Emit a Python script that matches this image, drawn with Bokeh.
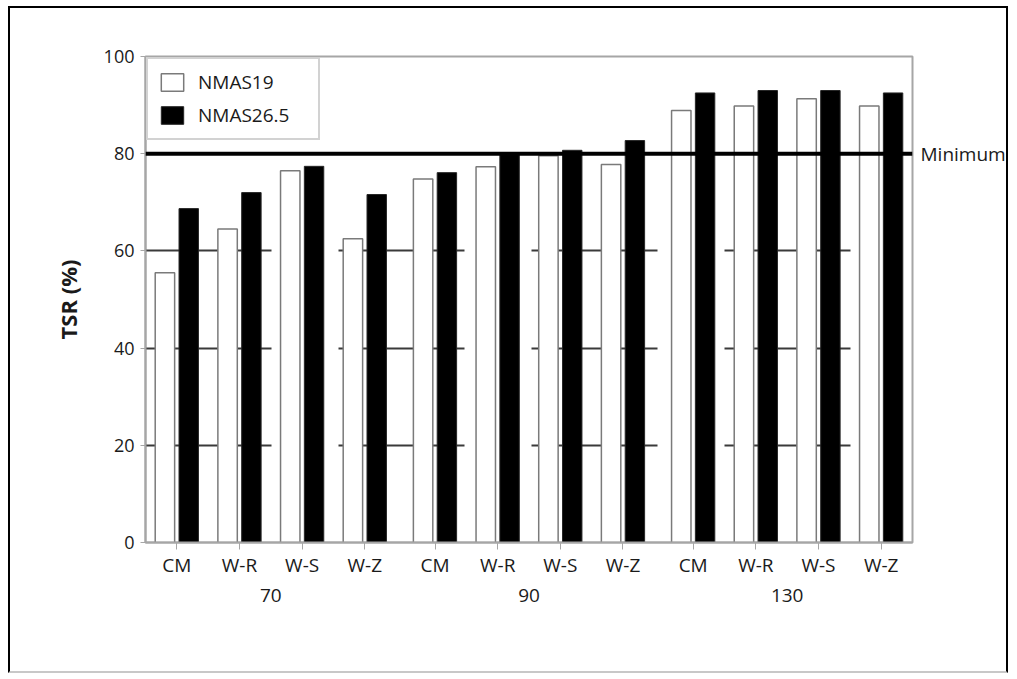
from bokeh.plotting import figure
from bokeh.models import (FactorRange, Range1d, ColumnDataSource, FixedTicker, Span,
                          LinearAxis, CategoricalAxis)
from bokeh.transform import dodge
from bokeh.embed import file_html
from bokeh.resources import INLINE

# ---- data ----
groups = ["70", "90", "130"]
mixes = ["CM", "W-R", "W-S", "W-Z"]
nmas19 = [55.5, 64.5, 76.5, 62.5, 74.8, 77.3, 79.6, 77.8, 88.9, 89.8, 91.3, 89.8]
nmas265 = [68.7, 72.0, 77.4, 71.6, 76.1, 80.0, 80.7, 82.7, 92.5, 93.0, 93.0, 92.5]
y_ticks = [0, 20, 40, 60, 80, 100]
grid_ticks = [20, 40, 60]
minimum = 80
minimum_label = "Minimum"

factors = [(g, m) for g in groups for m in mixes]
source = ColumnDataSource(dict(x=factors, n19=nmas19, n265=nmas265))

GROUP_PAD = 0.12

FONT = "Open Sans"
TXT = "#1a1a1a"
GRAY = "#a6a6a6"

p = figure(x_range=FactorRange(*factors, group_padding=GROUP_PAD, range_padding=0),
           y_range=Range1d(0, 100),
           width=1000, height=667,
           output_backend="svg", toolbar_location=None,
           min_border_left=135, min_border_right=98,
           min_border_top=48, min_border_bottom=133)
p.styles = {"border-top": "2px solid black", "border-left": "2px solid black",
            "border-right": "2px solid black", "border-bottom": "2px solid #c8c8c8",
            "margin-left": "8px", "margin-top": "6px"}

p.vbar(x=dodge('x', -0.19, range=p.x_range), top='n19', width=0.31, source=source,
       fill_color="white", line_color="#7a7a7a", line_width=1.5, legend_label="NMAS19")
p.vbar(x=dodge('x', 0.19, range=p.x_range), top='n265', width=0.31, source=source,
       fill_color="black", line_color="#262626", line_width=1, legend_label="NMAS26.5")

p.add_layout(Span(location=minimum, dimension="width", line_color="black", line_width=4))

# right axis carrying the "Minimum" text
ax_r = LinearAxis(ticker=FixedTicker(ticks=[minimum]),
                  major_label_overrides={minimum: minimum_label})
ax_r.axis_line_color = None
ax_r.major_tick_line_color = None
ax_r.minor_tick_line_color = None
ax_r.major_tick_out = 0
ax_r.major_tick_in = 0
ax_r.minor_tick_out = 0
ax_r.major_label_standoff = 8
ax_r.major_label_text_font = FONT
ax_r.major_label_text_font_size = "19px"
ax_r.major_label_text_color = TXT
p.add_layout(ax_r, "right")

# frame
p.outline_line_color = GRAY
p.outline_line_width = 2
p.background_fill_color = "white"
p.border_fill_color = "white"

# grid
p.xgrid.grid_line_color = None
p.ygrid.ticker = FixedTicker(ticks=grid_ticks)
p.ygrid.grid_line_color = "#3a3a3a"
p.ygrid.grid_line_width = 2
p.ygrid.grid_line_dash = "126 67"

# y axis
yax = p.yaxis[0]
yax.ticker = FixedTicker(ticks=y_ticks)
yax.axis_line_color = GRAY
yax.axis_line_width = 2
yax.major_tick_line_color = GRAY
yax.major_tick_out = 5
yax.major_tick_in = 0
yax.minor_tick_line_color = None
yax.major_label_text_font = FONT
yax.major_label_text_font_size = "18px"
yax.major_label_text_color = TXT
yax.major_label_standoff = 6
yax.axis_label = "TSR (%)"
yax.axis_label_text_font = FONT
yax.axis_label_text_font_size = "22px"
yax.axis_label_text_font_style = "bold"
yax.axis_label_text_color = TXT
yax.axis_label_standoff = 18

# x axis (mix labels; group row hidden and redrawn by a second axis)
xax = p.xaxis[0]
xax.axis_line_color = GRAY
xax.axis_line_width = 2
xax.major_tick_line_color = GRAY
xax.major_tick_out = 7
xax.major_tick_in = 0
xax.minor_tick_line_color = None
xax.major_label_text_font = FONT
xax.major_label_text_font_size = "19px"
xax.major_label_text_color = TXT
xax.major_label_standoff = 2
xax.group_text_font_size = "1px"
xax.group_text_alpha = 0
xax.separator_line_alpha = 0

# group labels axis: a flat factor range scaled like the nested one
p.extra_x_ranges = {"grp": FactorRange(*groups, range_padding=0,
                                       factor_padding=GROUP_PAD / len(mixes))}
ax_g = CategoricalAxis(x_range_name="grp")
ax_g.axis_line_color = None
ax_g.major_tick_line_color = None
ax_g.minor_tick_line_color = None
ax_g.major_tick_out = 0
ax_g.major_tick_in = 0
ax_g.minor_tick_out = 0
ax_g.major_label_standoff = 8
ax_g.major_label_text_font = FONT
ax_g.major_label_text_font_size = "19px"
ax_g.major_label_text_color = TXT
p.add_layout(ax_g, "below")

# legend
lg = p.legend[0]
lg.location = "top_left"
lg.margin = 1
lg.padding = 10
lg.spacing = 7
lg.glyph_width = 28
lg.glyph_height = 22
lg.label_height = 22
lg.label_width = 110
lg.label_standoff = 12
lg.label_text_font = FONT
lg.label_text_font_size = "19px"
lg.label_text_color = TXT
lg.border_line_color = GRAY
lg.border_line_width = 2
lg.background_fill_color = "white"
lg.background_fill_alpha = 1

open("out.html", "w").write(file_html(p, INLINE))
